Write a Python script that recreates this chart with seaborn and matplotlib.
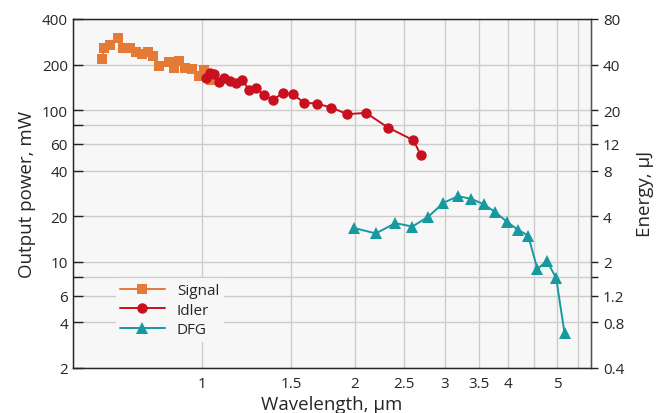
import numpy as np
import matplotlib
matplotlib.use("Agg")
import matplotlib.pyplot as plt
import seaborn as sns
from matplotlib.ticker import FixedLocator, FixedFormatter, NullLocator

# Data (wavelength in um, power in mW)
signal_wl = [0.636, 0.641, 0.659, 0.682, 0.700, 0.722, 0.741, 0.763, 0.782, 0.802,
             0.824, 0.860, 0.881, 0.902, 0.927, 0.954, 0.985, 1.010, 1.040]
signal_pw = [216, 256, 271, 299, 259, 259, 243, 234, 243, 229,
             197, 208, 191, 210, 191, 187, 169, 185, 159]

idler_wl = [1.018, 1.037, 1.056, 1.082, 1.105, 1.135, 1.166, 1.199, 1.239, 1.277,
            1.324, 1.378, 1.442, 1.508, 1.587, 1.682, 1.797, 1.932, 2.103, 2.323,
            2.606, 2.694]
idler_pw = [163, 176, 173, 153, 163, 156, 151, 158, 136, 141,
            125, 117.5, 129, 128, 112, 110.6, 104, 94.1, 96, 76.8,
            63.4, 50.5]

dfg_wl = [1.994, 2.198, 2.401, 2.594, 2.790, 2.985, 3.19, 3.39, 3.58, 3.775,
          3.979, 4.183, 4.383, 4.571, 4.77, 4.977, 5.167]
dfg_pw = [16.7, 15.4, 18.0, 17.1, 19.9, 24.5, 27.1, 26.0, 24.0, 21.3,
          18.4, 16.3, 14.9, 8.95, 10.2, 7.77, 3.39]

x_ticks = [1, 1.5, 2, 2.5, 3, 3.5, 4, 4.5, 5, 5.5]
x_labels = ["1", "1.5", "2", "2.5", "3", "3.5", "4", "", "5", ""]
y_ticks = [2, 4, 6, 8, 10, 20, 40, 60, 80, 100, 200, 400]
y_labels = ["2", "4", "6", "", "10", "20", "40", "60", "", "100", "200", "400"]
e_ticks = [0.4, 0.8, 1.2, 1.6, 2, 4, 8, 12, 16, 20, 40, 80]
e_labels = ["0.4", "0.8", "1.2", "", "2", "4", "8", "12", "", "20", "40", "80"]

sns.set_style("white", {"axes.facecolor": "#f7f7f7"})
plt.rcParams['font.family'] = ['Open Sans', 'DejaVu Sans']

fig = plt.figure(figsize=(6.62, 4.14), dpi=100)
ax = fig.add_axes([0.110, 0.109, 0.783, 0.843])

sig_c = "#e47a36"
idl_c = "#c8101e"
dfg_c = "#16999f"

sns.lineplot(x=signal_wl, y=signal_pw, ax=ax, color=sig_c, marker="s", markersize=7,
             markeredgewidth=0, linewidth=1.4, label="Signal", estimator=None)
sns.lineplot(x=idler_wl, y=idler_pw, ax=ax, color=idl_c, marker="o", markersize=7.5,
             markeredgewidth=0, linewidth=1.4, label="Idler", estimator=None)
sns.lineplot(x=dfg_wl, y=dfg_pw, ax=ax, color=dfg_c, marker="^", markersize=8,
             markeredgewidth=0, linewidth=1.4, label="DFG", estimator=None)

ax.set_xscale("log")
ax.set_yscale("log")
ax.set_xlim(0.557, 5.83)
ax.set_ylim(2, 400)

ax.xaxis.set_major_locator(FixedLocator(x_ticks))
ax.xaxis.set_major_formatter(FixedFormatter(x_labels))
ax.xaxis.set_minor_locator(NullLocator())
ax.yaxis.set_major_locator(FixedLocator(y_ticks))
ax.yaxis.set_major_formatter(FixedFormatter(y_labels))
ax.yaxis.set_minor_locator(NullLocator())

ax.grid(True, color="#cccccc", linewidth=1)
ax.set_axisbelow(True)
ax.tick_params(axis="both", direction="in", length=7, width=1, labelsize=11, color="#222222")
ax.tick_params(axis="x", pad=6)

for side in ["left", "bottom", "top", "right"]:
    ax.spines[side].set_color("#222222")
    ax.spines[side].set_linewidth(1)

ax.set_xlabel("Wavelength, µm", fontsize=13.5, labelpad=3)
ax.set_ylabel("Output power, mW", fontsize=13.5, labelpad=4)

ax2 = ax.twinx()
ax2.set_yscale("log")
ax2.set_ylim(0.4, 80)
ax2.yaxis.set_major_locator(FixedLocator(e_ticks))
ax2.yaxis.set_major_formatter(FixedFormatter(e_labels))
ax2.yaxis.set_minor_locator(NullLocator())
ax2.tick_params(axis="y", direction="out", length=5, width=1, labelsize=11, color="#222222")
ax2.spines["right"].set_color("#555555")
ax2.set_ylabel("Energy, µJ", fontsize=13.5, labelpad=8)
ax2.grid(False)

leg = ax.legend(loc="upper left", bbox_to_anchor=(0.068, 0.278), frameon=True,
                facecolor="#f7f7f7", edgecolor="none", framealpha=1, fontsize=11,
                handlelength=2.9, handletextpad=0.8, labelspacing=0.3,
                borderpad=0.3)

fig.savefig("out.png", dpi=100)
